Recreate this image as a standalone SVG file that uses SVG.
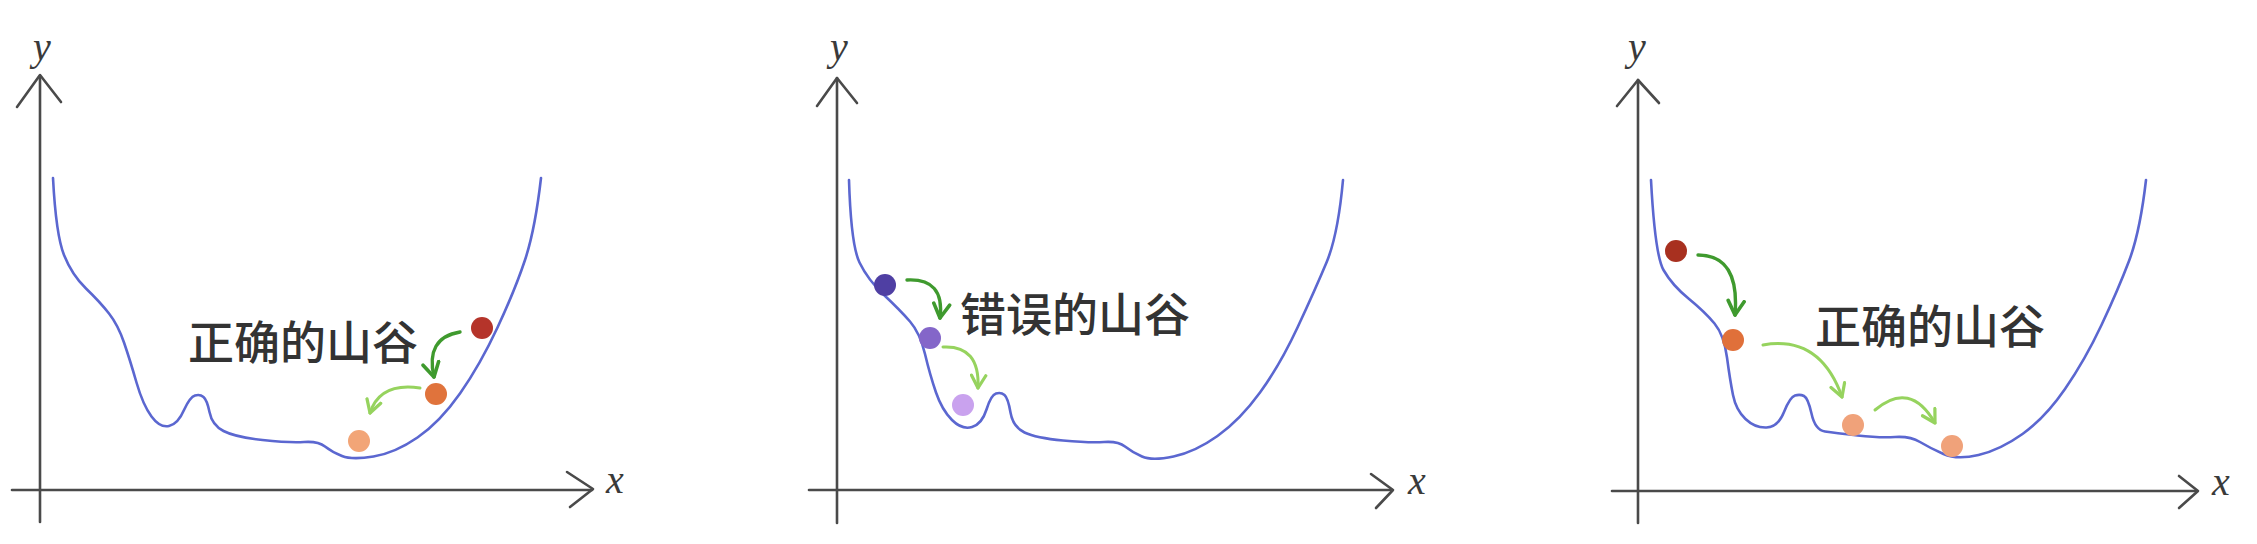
<svg xmlns="http://www.w3.org/2000/svg" width="2257" height="544" viewBox="0 0 2257 544">
<defs>
<style>
.axis{fill:none;stroke:#4a4a4a;stroke-width:2.6;stroke-linecap:round;stroke-linejoin:round}
.curve{fill:none;stroke:#5b67d0;stroke-width:2.6;stroke-linecap:round;stroke-linejoin:round}
.var{font-family:"Liberation Serif",serif;font-style:italic;font-size:40px;fill:#3a3a3a}
.lbl{font-family:"Noto Sans CJK SC","Noto Sans",sans-serif;font-size:46px;font-weight:500;fill:#333333}
.dk{fill:none;stroke:#3f9a2e;stroke-width:3.4;stroke-linecap:round}
.lt{fill:none;stroke:#96d35e;stroke-width:3;stroke-linecap:round}
</style>
<marker id="ahd" viewBox="0 0 10 10" refX="8" refY="5" markerWidth="20" markerHeight="20" markerUnits="userSpaceOnUse" orient="auto">
<path d="M1,1 L8,5 L1,9" fill="none" stroke="#3f9a2e" stroke-width="1.8" stroke-linecap="round" stroke-linejoin="round"/>
</marker>
<marker id="ahl" viewBox="0 0 10 10" refX="8" refY="5" markerWidth="18" markerHeight="18" markerUnits="userSpaceOnUse" orient="auto">
<path d="M1,1 L8,5 L1,9" fill="none" stroke="#96d35e" stroke-width="1.8" stroke-linecap="round" stroke-linejoin="round"/>
</marker>
</defs>
<rect width="2257" height="544" fill="#ffffff"/>

<g id="panel1">
<g id="axes1">
<path class="axis" d="M40,76 L40,522"/>
<path class="axis" d="M17,107 L40,75 L61,102"/>
<path class="axis" d="M12,490 L592,490"/>
<path class="axis" d="M567,472 L593,489 L570,507"/>
<text class="var" x="33" y="60">y</text>
<text class="var" x="606" y="493">x</text>
</g>
<path id="curve1" class="curve" d="M53,178 Q56,235 64,255 Q72,275 86,288.5 Q100,302 109,313.5 Q118,325 124,342.5 Q130,360 136.5,382.5 Q143,405 151.5,416.5 Q160,428 169,426 Q178,424 184,410 Q190,397 195,395.5 Q200,394 203.5,397 Q207,400 209.5,412 Q212,425 223.5,431 Q235,437 262.5,440 Q290,443 304,442 Q318,441 325,446.5 Q332,452 342,456 Q352,460 373.5,456.5 Q395,453 417.5,437.5 Q440,422 460,393.5 Q480,365 497.5,327.5 Q515,290 525,260 Q535,230 541,178"/>
<text id="label1" class="lbl" x="188" y="359">正确的山谷</text>
<g id="balls1">
<circle cx="482" cy="328" r="11" fill="#b5342a"/>
<circle cx="436" cy="394" r="11" fill="#e0733c"/>
<circle cx="359" cy="441" r="11" fill="#f2a577"/>
</g>
</g>

<g id="panel2">
<g id="axes2">
<path class="axis" d="M837,78 L837,523"/>
<path class="axis" d="M817,106 L837,78 L857,103"/>
<path class="axis" d="M809,490 L1392,490"/>
<path class="axis" d="M1371,474 L1393,490 L1376,508"/>
<text class="var" x="830" y="60">y</text>
<text class="var" x="1408" y="494">x</text>
</g>
<path id="curve2" class="curve" d="M849,180 Q851,245 859.5,262.5 Q868,280 884,295 Q900,310 910,321.5 Q920,333 925,354 Q930,375 936,392.5 Q942,410 952,420 Q962,430 972,427 Q982,424 986.5,409.5 Q991,395 996,393.5 Q1001,392 1004.5,395 Q1008,398 1010.5,412.5 Q1013,427 1024.5,432.5 Q1036,438 1063,440.5 Q1090,443 1104,442 Q1118,441 1125,446.5 Q1132,452 1142,456.5 Q1152,461 1173.5,456.5 Q1195,452 1217.5,436 Q1240,420 1260,392.5 Q1280,365 1297.5,327.5 Q1315,290 1326.5,262.5 Q1338,235 1343,180"/>
<text id="label2" class="lbl" x="960" y="331">错误的山谷</text>
<g id="balls2">
<circle cx="885" cy="285" r="11" fill="#4f3fa3"/>
<circle cx="930" cy="338" r="11" fill="#8466c9"/>
<circle cx="963" cy="405" r="11" fill="#c9a2ee"/>
</g>
</g>

<g id="panel3">
<g id="axes3">
<path class="axis" d="M1638,80 L1638,523"/>
<path class="axis" d="M1617,106 L1638,80 L1659,103"/>
<path class="axis" d="M1612,491 L2197,491"/>
<path class="axis" d="M2179,476 L2198,491 L2179,508"/>
<text class="var" x="1628" y="60">y</text>
<text class="var" x="2212" y="495">x</text>
</g>
<path id="curve3" class="curve" d="M1651,180 Q1655,255 1663.5,270 Q1672,285 1688.5,298.5 Q1705,312 1714.5,323.5 Q1724,335 1727,357.5 Q1730,380 1733,395 Q1736,410 1745.5,419 Q1755,428 1766.5,427.5 Q1778,427 1784,412 Q1790,397 1795,395.5 Q1800,394 1804,396 Q1808,398 1811.5,413.5 Q1815,430 1825,431.5 Q1835,433 1857.5,435.5 Q1880,438 1895,437 Q1910,436 1920,442 Q1930,448 1943.5,454 Q1957,460 1978.5,455 Q2000,450 2022.5,434 Q2045,418 2065,389 Q2085,360 2101.5,325 Q2118,290 2129,261 Q2140,232 2146,180"/>
<text id="label3" class="lbl" x="1815" y="343">正确的山谷</text>
<g id="balls3">
<circle cx="1676" cy="251" r="11" fill="#a8301f"/>
<circle cx="1733" cy="340" r="11" fill="#e0703a"/>
<circle cx="1853" cy="425" r="11" fill="#f0a27a"/>
<circle cx="1952" cy="446" r="11" fill="#f0a27a"/>
</g>
</g>

<g id="connectors">
<path class="dk" d="M460,332 Q425,338 434,377" marker-end="url(#ahd)"/>
<path class="lt" d="M420,388 Q380,382 370,413" marker-end="url(#ahl)"/>
<path class="dk" d="M907,280 Q945,278 940,318" marker-end="url(#ahd)"/>
<path class="lt" d="M943,347 Q980,345 978,388" marker-end="url(#ahl)"/>
<path class="dk" d="M1698,255 Q1740,255 1735,315" marker-end="url(#ahd)"/>
<path class="lt" d="M1763,345 Q1820,335 1842,397" marker-end="url(#ahl)"/>
<path class="lt" d="M1875,410 Q1910,380 1935,423" marker-end="url(#ahl)"/>
</g>
</svg>
